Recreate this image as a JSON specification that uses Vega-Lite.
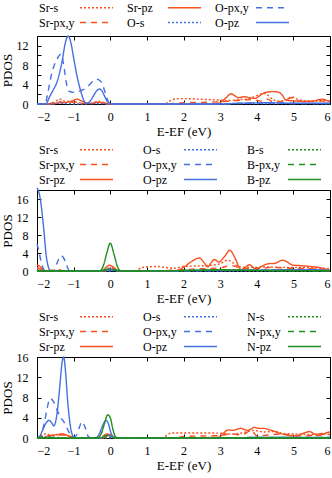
{
"$schema": "https://vega.github.io/schema/vega-lite/v6.json",
"padding": {"left": 0, "top": 0, "right": 3, "bottom": 0},
"config": {
  "font": "Liberation Serif",
  "view": {"stroke": "black", "strokeWidth": 1},
  "axis": {"grid": false, "domain": false, "labelFont": "Liberation Serif", "labelFontSize": 12, "labelColor": "black", "titleFont": "Liberation Serif", "titleFontSize": 13, "titleFontWeight": "normal", "titleColor": "black", "tickColor": "black", "tickSize": -4},
  "legend": {"orient": "none", "legendX": 53, "direction": "horizontal", "columns": 3, "title": null, "labelFont": "Liberation Serif", "labelFontSize": 12, "labelColor": "black", "symbolType": "M-3,0H3", "symbolSize": 121, "symbolStrokeWidth": 1.5, "labelAlign": "left", "labelOffset": -64, "rowPadding": 2, "padding": 0},
  "line": {"strokeWidth": 1.4, "interpolate": "monotone", "clip": true}
},
"resolve": {"scale": {"color": "independent", "strokeDash": "independent"}},
"spacing": 3,
"datasets": {
"a": [
{"x":-2,"y":0,"s":"Sr-s"},{"x":-1.6,"y":0,"s":"Sr-s"},{"x":-1.5,"y":0.4,"s":"Sr-s"},{"x":-1.42,"y":0.9,"s":"Sr-s"},{"x":-1.35,"y":1.0,"s":"Sr-s"},{"x":-1.28,"y":0.7,"s":"Sr-s"},{"x":-1.2,"y":0.5,"s":"Sr-s"},{"x":-1.1,"y":0.6,"s":"Sr-s"},{"x":-1.0,"y":0.5,"s":"Sr-s"},{"x":-0.9,"y":0.3,"s":"Sr-s"},{"x":-0.75,"y":0.2,"s":"Sr-s"},{"x":-0.6,"y":0.1,"s":"Sr-s"},{"x":-0.45,"y":0.3,"s":"Sr-s"},{"x":-0.32,"y":0.6,"s":"Sr-s"},{"x":-0.2,"y":0.3,"s":"Sr-s"},{"x":-0.05,"y":0,"s":"Sr-s"},{"x":1.5,"y":0,"s":"Sr-s"},{"x":1.58,"y":0.4,"s":"Sr-s"},{"x":1.7,"y":0.9,"s":"Sr-s"},{"x":1.85,"y":1.1,"s":"Sr-s"},{"x":2.1,"y":1.1,"s":"Sr-s"},{"x":2.4,"y":1.0,"s":"Sr-s"},{"x":2.7,"y":0.9,"s":"Sr-s"},{"x":3.0,"y":0.8,"s":"Sr-s"},{"x":3.2,"y":0.7,"s":"Sr-s"},{"x":3.45,"y":0.9,"s":"Sr-s"},{"x":3.7,"y":1.0,"s":"Sr-s"},{"x":3.9,"y":1.4,"s":"Sr-s"},{"x":4.05,"y":1.9,"s":"Sr-s"},{"x":4.2,"y":2.2,"s":"Sr-s"},{"x":4.3,"y":1.8,"s":"Sr-s"},{"x":4.45,"y":0.9,"s":"Sr-s"},{"x":4.6,"y":0.6,"s":"Sr-s"},{"x":4.8,"y":0.8,"s":"Sr-s"},{"x":4.95,"y":1.5,"s":"Sr-s"},{"x":5.1,"y":1.0,"s":"Sr-s"},{"x":5.3,"y":0.7,"s":"Sr-s"},{"x":5.6,"y":0.6,"s":"Sr-s"},{"x":5.85,"y":0.8,"s":"Sr-s"},{"x":6,"y":0.6,"s":"Sr-s"},
{"x":-2,"y":0,"s":"Sr-px,y"},{"x":-1.7,"y":0,"s":"Sr-px,y"},{"x":-1.55,"y":0.3,"s":"Sr-px,y"},{"x":-1.4,"y":0.5,"s":"Sr-px,y"},{"x":-1.25,"y":0.3,"s":"Sr-px,y"},{"x":-1.1,"y":0.4,"s":"Sr-px,y"},{"x":-0.95,"y":0.3,"s":"Sr-px,y"},{"x":-0.8,"y":0.1,"s":"Sr-px,y"},{"x":-0.5,"y":0.1,"s":"Sr-px,y"},{"x":-0.35,"y":0.4,"s":"Sr-px,y"},{"x":-0.2,"y":0.3,"s":"Sr-px,y"},{"x":-0.05,"y":0,"s":"Sr-px,y"},{"x":1.6,"y":0,"s":"Sr-px,y"},{"x":1.8,"y":0.2,"s":"Sr-px,y"},{"x":2.2,"y":0.3,"s":"Sr-px,y"},{"x":2.6,"y":0.35,"s":"Sr-px,y"},{"x":3.0,"y":0.45,"s":"Sr-px,y"},{"x":3.3,"y":0.6,"s":"Sr-px,y"},{"x":3.6,"y":0.8,"s":"Sr-px,y"},{"x":3.9,"y":0.9,"s":"Sr-px,y"},{"x":4.1,"y":0.6,"s":"Sr-px,y"},{"x":4.3,"y":1.0,"s":"Sr-px,y"},{"x":4.45,"y":0.4,"s":"Sr-px,y"},{"x":4.7,"y":0.5,"s":"Sr-px,y"},{"x":4.95,"y":1.3,"s":"Sr-px,y"},{"x":5.15,"y":0.6,"s":"Sr-px,y"},{"x":5.5,"y":0.5,"s":"Sr-px,y"},{"x":5.8,"y":0.6,"s":"Sr-px,y"},{"x":6,"y":0.4,"s":"Sr-px,y"},
{"x":-2,"y":0,"s":"Sr-pz"},{"x":-1.6,"y":0,"s":"Sr-pz"},{"x":-1.45,"y":0.2,"s":"Sr-pz"},{"x":-1.25,"y":0.3,"s":"Sr-pz"},{"x":-1.05,"y":0.6,"s":"Sr-pz"},{"x":-0.91,"y":1.0,"s":"Sr-pz"},{"x":-0.8,"y":0.7,"s":"Sr-pz"},{"x":-0.65,"y":0.2,"s":"Sr-pz"},{"x":-0.5,"y":0.1,"s":"Sr-pz"},{"x":-0.35,"y":0.3,"s":"Sr-pz"},{"x":-0.2,"y":0.25,"s":"Sr-pz"},{"x":-0.05,"y":0,"s":"Sr-pz"},{"x":2.8,"y":0,"s":"Sr-pz"},{"x":3.0,"y":0.3,"s":"Sr-pz"},{"x":3.15,"y":1.2,"s":"Sr-pz"},{"x":3.3,"y":2.1,"s":"Sr-pz"},{"x":3.4,"y":1.7,"s":"Sr-pz"},{"x":3.5,"y":1.3,"s":"Sr-pz"},{"x":3.66,"y":1.5,"s":"Sr-pz"},{"x":3.8,"y":1.3,"s":"Sr-pz"},{"x":3.95,"y":1.15,"s":"Sr-pz"},{"x":4.1,"y":1.8,"s":"Sr-pz"},{"x":4.25,"y":2.4,"s":"Sr-pz"},{"x":4.45,"y":2.56,"s":"Sr-pz"},{"x":4.6,"y":2.4,"s":"Sr-pz"},{"x":4.7,"y":1.8,"s":"Sr-pz"},{"x":4.78,"y":0.9,"s":"Sr-pz"},{"x":4.9,"y":0.7,"s":"Sr-pz"},{"x":5.1,"y":0.6,"s":"Sr-pz"},{"x":5.35,"y":0.5,"s":"Sr-pz"},{"x":5.55,"y":0.6,"s":"Sr-pz"},{"x":5.7,"y":0.9,"s":"Sr-pz"},{"x":5.8,"y":1.0,"s":"Sr-pz"},{"x":5.92,"y":0.7,"s":"Sr-pz"},{"x":6,"y":0.5,"s":"Sr-pz"},
{"x":-2,"y":0,"s":"O-s"},{"x":-1.6,"y":0,"s":"O-s"},{"x":-1.4,"y":0.2,"s":"O-s"},{"x":-1.2,"y":0.1,"s":"O-s"},{"x":-0.9,"y":0,"s":"O-s"},{"x":-0.4,"y":0.1,"s":"O-s"},{"x":0,"y":0,"s":"O-s"},{"x":3,"y":0,"s":"O-s"},{"x":3.5,"y":0.1,"s":"O-s"},{"x":4.5,"y":0.1,"s":"O-s"},{"x":6,"y":0.05,"s":"O-s"},
{"x":-2,"y":0,"s":"O-px,y"},{"x":-1.78,"y":0,"s":"O-px,y"},{"x":-1.7,"y":2.5,"s":"O-px,y"},{"x":-1.59,"y":6.5,"s":"O-px,y"},{"x":-1.45,"y":9.3,"s":"O-px,y"},{"x":-1.34,"y":10.3,"s":"O-px,y"},{"x":-1.27,"y":8,"s":"O-px,y"},{"x":-1.2,"y":4.4,"s":"O-px,y"},{"x":-1.14,"y":2.7,"s":"O-px,y"},{"x":-1.0,"y":2.4,"s":"O-px,y"},{"x":-0.82,"y":2.7,"s":"O-px,y"},{"x":-0.7,"y":3.1,"s":"O-px,y"},{"x":-0.59,"y":3.8,"s":"O-px,y"},{"x":-0.45,"y":4.8,"s":"O-px,y"},{"x":-0.36,"y":5.1,"s":"O-px,y"},{"x":-0.28,"y":4.8,"s":"O-px,y"},{"x":-0.22,"y":4.2,"s":"O-px,y"},{"x":-0.15,"y":2.6,"s":"O-px,y"},{"x":-0.09,"y":1.2,"s":"O-px,y"},{"x":-0.02,"y":0.1,"s":"O-px,y"},{"x":0.1,"y":0,"s":"O-px,y"},{"x":3,"y":0,"s":"O-px,y"},{"x":3.5,"y":0.1,"s":"O-px,y"},{"x":4.4,"y":0.2,"s":"O-px,y"},{"x":5,"y":0.1,"s":"O-px,y"},{"x":6,"y":0.1,"s":"O-px,y"},
{"x":-2,"y":0,"s":"O-pz"},{"x":-1.76,"y":0,"s":"O-pz"},{"x":-1.65,"y":1.6,"s":"O-pz"},{"x":-1.55,"y":3.0,"s":"O-pz"},{"x":-1.45,"y":4.6,"s":"O-pz"},{"x":-1.32,"y":8.6,"s":"O-pz"},{"x":-1.22,"y":12.8,"s":"O-pz"},{"x":-1.15,"y":14.0,"s":"O-pz"},{"x":-1.08,"y":12.8,"s":"O-pz"},{"x":-1.0,"y":9.5,"s":"O-pz"},{"x":-0.9,"y":5.5,"s":"O-pz"},{"x":-0.8,"y":2.5,"s":"O-pz"},{"x":-0.72,"y":0.7,"s":"O-pz"},{"x":-0.66,"y":0.1,"s":"O-pz"},{"x":-0.55,"y":0.6,"s":"O-pz"},{"x":-0.45,"y":1.8,"s":"O-pz"},{"x":-0.36,"y":2.8,"s":"O-pz"},{"x":-0.29,"y":3.1,"s":"O-pz"},{"x":-0.22,"y":2.6,"s":"O-pz"},{"x":-0.14,"y":1.4,"s":"O-pz"},{"x":-0.06,"y":0.3,"s":"O-pz"},{"x":0.05,"y":0,"s":"O-pz"},{"x":3,"y":0,"s":"O-pz"},{"x":3.5,"y":0.15,"s":"O-pz"},{"x":4.4,"y":0.25,"s":"O-pz"},{"x":5,"y":0.15,"s":"O-pz"},{"x":6,"y":0.15,"s":"O-pz"}
],
"b": [
{"x":-2,"y":0.8,"s":"Sr-s"},{"x":-1.9,"y":0.5,"s":"Sr-s"},{"x":-1.8,"y":0.1,"s":"Sr-s"},{"x":-1.7,"y":0,"s":"Sr-s"},{"x":-0.2,"y":0,"s":"Sr-s"},{"x":-0.05,"y":0.6,"s":"Sr-s"},{"x":0.05,"y":0.6,"s":"Sr-s"},{"x":0.2,"y":0,"s":"Sr-s"},{"x":0.7,"y":0,"s":"Sr-s"},{"x":0.84,"y":0.7,"s":"Sr-s"},{"x":1.0,"y":0.9,"s":"Sr-s"},{"x":1.3,"y":1.0,"s":"Sr-s"},{"x":1.5,"y":0.8,"s":"Sr-s"},{"x":1.75,"y":0.6,"s":"Sr-s"},{"x":2.0,"y":1.0,"s":"Sr-s"},{"x":2.3,"y":1.1,"s":"Sr-s"},{"x":2.6,"y":1.2,"s":"Sr-s"},{"x":2.9,"y":1.4,"s":"Sr-s"},{"x":3.05,"y":1.8,"s":"Sr-s"},{"x":3.2,"y":2.4,"s":"Sr-s"},{"x":3.35,"y":1.8,"s":"Sr-s"},{"x":3.5,"y":1.0,"s":"Sr-s"},{"x":3.7,"y":0.8,"s":"Sr-s"},{"x":4.0,"y":0.8,"s":"Sr-s"},{"x":4.3,"y":0.9,"s":"Sr-s"},{"x":4.6,"y":0.8,"s":"Sr-s"},{"x":5.0,"y":0.8,"s":"Sr-s"},{"x":5.5,"y":0.7,"s":"Sr-s"},{"x":6,"y":0.5,"s":"Sr-s"},
{"x":-2,"y":0.6,"s":"Sr-px,y"},{"x":-1.85,"y":0.3,"s":"Sr-px,y"},{"x":-1.75,"y":0,"s":"Sr-px,y"},{"x":-1.6,"y":0.2,"s":"Sr-px,y"},{"x":-1.4,"y":0.3,"s":"Sr-px,y"},{"x":-1.25,"y":0,"s":"Sr-px,y"},{"x":-0.15,"y":0,"s":"Sr-px,y"},{"x":0,"y":0.8,"s":"Sr-px,y"},{"x":0.15,"y":0.3,"s":"Sr-px,y"},{"x":0.3,"y":0,"s":"Sr-px,y"},{"x":1.0,"y":0,"s":"Sr-px,y"},{"x":1.5,"y":0.1,"s":"Sr-px,y"},{"x":2.0,"y":0.3,"s":"Sr-px,y"},{"x":2.5,"y":0.5,"s":"Sr-px,y"},{"x":3.0,"y":0.7,"s":"Sr-px,y"},{"x":3.3,"y":1.2,"s":"Sr-px,y"},{"x":3.6,"y":0.6,"s":"Sr-px,y"},{"x":4.0,"y":0.5,"s":"Sr-px,y"},{"x":4.4,"y":0.8,"s":"Sr-px,y"},{"x":5.0,"y":0.6,"s":"Sr-px,y"},{"x":5.5,"y":0.5,"s":"Sr-px,y"},{"x":6,"y":0.3,"s":"Sr-px,y"},
{"x":-2,"y":1.3,"s":"Sr-pz"},{"x":-1.95,"y":1.2,"s":"Sr-pz"},{"x":-1.88,"y":0.7,"s":"Sr-pz"},{"x":-1.8,"y":0.1,"s":"Sr-pz"},{"x":-1.7,"y":0,"s":"Sr-pz"},{"x":-0.25,"y":0,"s":"Sr-pz"},{"x":-0.1,"y":0.9,"s":"Sr-pz"},{"x":-0.02,"y":1.3,"s":"Sr-pz"},{"x":0.08,"y":0.9,"s":"Sr-pz"},{"x":0.2,"y":0.1,"s":"Sr-pz"},{"x":0.3,"y":0,"s":"Sr-pz"},{"x":1.7,"y":0,"s":"Sr-pz"},{"x":1.85,"y":0.2,"s":"Sr-pz"},{"x":2.0,"y":0.8,"s":"Sr-pz"},{"x":2.2,"y":2.0,"s":"Sr-pz"},{"x":2.43,"y":2.9,"s":"Sr-pz"},{"x":2.55,"y":2.0,"s":"Sr-pz"},{"x":2.66,"y":0.9,"s":"Sr-pz"},{"x":2.75,"y":1.8,"s":"Sr-pz"},{"x":2.84,"y":2.55,"s":"Sr-pz"},{"x":2.97,"y":2.0,"s":"Sr-pz"},{"x":3.1,"y":3.0,"s":"Sr-pz"},{"x":3.27,"y":4.6,"s":"Sr-pz"},{"x":3.4,"y":3.0,"s":"Sr-pz"},{"x":3.57,"y":0.3,"s":"Sr-pz"},{"x":3.7,"y":0.9,"s":"Sr-pz"},{"x":3.8,"y":1.4,"s":"Sr-pz"},{"x":3.9,"y":0.8,"s":"Sr-pz"},{"x":3.96,"y":0.4,"s":"Sr-pz"},{"x":4.1,"y":0.9,"s":"Sr-pz"},{"x":4.3,"y":1.6,"s":"Sr-pz"},{"x":4.49,"y":1.7,"s":"Sr-pz"},{"x":4.71,"y":2.4,"s":"Sr-pz"},{"x":4.85,"y":1.9,"s":"Sr-pz"},{"x":4.98,"y":1.3,"s":"Sr-pz"},{"x":5.2,"y":1.2,"s":"Sr-pz"},{"x":5.4,"y":1.05,"s":"Sr-pz"},{"x":5.6,"y":0.9,"s":"Sr-pz"},{"x":5.76,"y":0.7,"s":"Sr-pz"},{"x":5.9,"y":0.35,"s":"Sr-pz"},{"x":6,"y":0.1,"s":"Sr-pz"},
{"x":-2,"y":0.3,"s":"O-s"},{"x":-1.9,"y":0,"s":"O-s"},{"x":0,"y":0,"s":"O-s"},{"x":0.05,"y":0.2,"s":"O-s"},{"x":0.15,"y":0,"s":"O-s"},{"x":6,"y":0,"s":"O-s"},
{"x":-2,"y":6,"s":"O-px,y"},{"x":-1.95,"y":4.5,"s":"O-px,y"},{"x":-1.9,"y":2.5,"s":"O-px,y"},{"x":-1.85,"y":1,"s":"O-px,y"},{"x":-1.78,"y":0,"s":"O-px,y"},{"x":-1.55,"y":0,"s":"O-px,y"},{"x":-1.45,"y":1.8,"s":"O-px,y"},{"x":-1.35,"y":3.4,"s":"O-px,y"},{"x":-1.28,"y":3.0,"s":"O-px,y"},{"x":-1.2,"y":1.5,"s":"O-px,y"},{"x":-1.12,"y":0.1,"s":"O-px,y"},{"x":-1.0,"y":0,"s":"O-px,y"},{"x":-0.1,"y":0,"s":"O-px,y"},{"x":0,"y":0.3,"s":"O-px,y"},{"x":0.1,"y":0,"s":"O-px,y"},{"x":2,"y":0,"s":"O-px,y"},{"x":3,"y":0.1,"s":"O-px,y"},{"x":4,"y":0.2,"s":"O-px,y"},{"x":5,"y":0.2,"s":"O-px,y"},{"x":6,"y":0.1,"s":"O-px,y"},
{"x":-2,"y":18.5,"s":"O-pz"},{"x":-1.95,"y":17.5,"s":"O-pz"},{"x":-1.9,"y":15.5,"s":"O-pz"},{"x":-1.85,"y":12,"s":"O-pz"},{"x":-1.8,"y":8,"s":"O-pz"},{"x":-1.75,"y":3.5,"s":"O-pz"},{"x":-1.7,"y":1.2,"s":"O-pz"},{"x":-1.64,"y":0.1,"s":"O-pz"},{"x":-1.5,"y":0,"s":"O-pz"},{"x":-0.3,"y":0,"s":"O-pz"},{"x":-0.15,"y":0.2,"s":"O-pz"},{"x":0,"y":0.4,"s":"O-pz"},{"x":0.15,"y":0.1,"s":"O-pz"},{"x":0.3,"y":0,"s":"O-pz"},{"x":2,"y":0.1,"s":"O-pz"},{"x":3,"y":0.2,"s":"O-pz"},{"x":4,"y":0.2,"s":"O-pz"},{"x":5,"y":0.3,"s":"O-pz"},{"x":5.5,"y":0.3,"s":"O-pz"},{"x":6,"y":0.1,"s":"O-pz"},
{"x":-2,"y":0,"s":"B-s"},{"x":-0.2,"y":0,"s":"B-s"},{"x":0,"y":0.3,"s":"B-s"},{"x":0.2,"y":0,"s":"B-s"},{"x":2,"y":0.1,"s":"B-s"},{"x":3,"y":0.2,"s":"B-s"},{"x":4,"y":0.1,"s":"B-s"},{"x":6,"y":0.05,"s":"B-s"},
{"x":-2,"y":0,"s":"B-px,y"},{"x":-0.25,"y":0,"s":"B-px,y"},{"x":-0.1,"y":0.4,"s":"B-px,y"},{"x":0,"y":0.6,"s":"B-px,y"},{"x":0.1,"y":0.4,"s":"B-px,y"},{"x":0.25,"y":0,"s":"B-px,y"},{"x":2,"y":0.1,"s":"B-px,y"},{"x":3,"y":0.2,"s":"B-px,y"},{"x":4,"y":0.1,"s":"B-px,y"},{"x":6,"y":0,"s":"B-px,y"},
{"x":-2,"y":0,"s":"B-pz"},{"x":-0.3,"y":0,"s":"B-pz"},{"x":-0.2,"y":0.9,"s":"B-pz"},{"x":-0.1,"y":3.8,"s":"B-pz"},{"x":0,"y":6.2,"s":"B-pz"},{"x":0.1,"y":3.8,"s":"B-pz"},{"x":0.2,"y":0.9,"s":"B-pz"},{"x":0.3,"y":0,"s":"B-pz"},{"x":2,"y":0.1,"s":"B-pz"},{"x":2.5,"y":0.2,"s":"B-pz"},{"x":3,"y":0.3,"s":"B-pz"},{"x":3.5,"y":0.2,"s":"B-pz"},{"x":4,"y":0.15,"s":"B-pz"},{"x":5,"y":0.1,"s":"B-pz"},{"x":6,"y":0.05,"s":"B-pz"}
],
"c": [
{"x":-2,"y":0,"s":"Sr-s"},{"x":-1.9,"y":0.3,"s":"Sr-s"},{"x":-1.8,"y":0.8,"s":"Sr-s"},{"x":-1.6,"y":0.6,"s":"Sr-s"},{"x":-1.45,"y":0.7,"s":"Sr-s"},{"x":-1.35,"y":0.8,"s":"Sr-s"},{"x":-1.2,"y":0.5,"s":"Sr-s"},{"x":-1.0,"y":0.2,"s":"Sr-s"},{"x":-0.9,"y":0,"s":"Sr-s"},{"x":-0.3,"y":0,"s":"Sr-s"},{"x":-0.15,"y":0.5,"s":"Sr-s"},{"x":-0.05,"y":0.6,"s":"Sr-s"},{"x":0.1,"y":0,"s":"Sr-s"},{"x":1.45,"y":0,"s":"Sr-s"},{"x":1.55,"y":0.6,"s":"Sr-s"},{"x":1.65,"y":0.95,"s":"Sr-s"},{"x":1.8,"y":1.0,"s":"Sr-s"},{"x":2.2,"y":1.0,"s":"Sr-s"},{"x":2.6,"y":1.0,"s":"Sr-s"},{"x":3.0,"y":0.95,"s":"Sr-s"},{"x":3.3,"y":0.8,"s":"Sr-s"},{"x":3.6,"y":1.0,"s":"Sr-s"},{"x":3.9,"y":1.5,"s":"Sr-s"},{"x":4.2,"y":1.2,"s":"Sr-s"},{"x":4.5,"y":1.3,"s":"Sr-s"},{"x":4.7,"y":0.9,"s":"Sr-s"},{"x":5.0,"y":0.8,"s":"Sr-s"},{"x":5.4,"y":0.7,"s":"Sr-s"},{"x":5.7,"y":0.8,"s":"Sr-s"},{"x":6,"y":0.7,"s":"Sr-s"},
{"x":-2,"y":0,"s":"Sr-px,y"},{"x":-1.8,"y":0.3,"s":"Sr-px,y"},{"x":-1.5,"y":0.5,"s":"Sr-px,y"},{"x":-1.3,"y":0.6,"s":"Sr-px,y"},{"x":-1.1,"y":0.3,"s":"Sr-px,y"},{"x":-0.95,"y":0,"s":"Sr-px,y"},{"x":-0.2,"y":0,"s":"Sr-px,y"},{"x":-0.1,"y":0.4,"s":"Sr-px,y"},{"x":0.05,"y":0.2,"s":"Sr-px,y"},{"x":0.15,"y":0,"s":"Sr-px,y"},{"x":1.8,"y":0,"s":"Sr-px,y"},{"x":2.0,"y":0.3,"s":"Sr-px,y"},{"x":2.5,"y":0.4,"s":"Sr-px,y"},{"x":3.0,"y":0.5,"s":"Sr-px,y"},{"x":3.3,"y":0.8,"s":"Sr-px,y"},{"x":3.6,"y":0.6,"s":"Sr-px,y"},{"x":3.85,"y":1.5,"s":"Sr-px,y"},{"x":4.0,"y":0.4,"s":"Sr-px,y"},{"x":4.3,"y":0.6,"s":"Sr-px,y"},{"x":4.7,"y":0.8,"s":"Sr-px,y"},{"x":5.0,"y":0.4,"s":"Sr-px,y"},{"x":5.5,"y":0.5,"s":"Sr-px,y"},{"x":5.8,"y":0.9,"s":"Sr-px,y"},{"x":6,"y":0.6,"s":"Sr-px,y"},
{"x":-2,"y":0,"s":"Sr-pz"},{"x":-1.9,"y":0,"s":"Sr-pz"},{"x":-1.7,"y":0.4,"s":"Sr-pz"},{"x":-1.4,"y":0.7,"s":"Sr-pz"},{"x":-1.3,"y":0.8,"s":"Sr-pz"},{"x":-1.2,"y":0.6,"s":"Sr-pz"},{"x":-1.05,"y":0.2,"s":"Sr-pz"},{"x":-0.9,"y":0,"s":"Sr-pz"},{"x":-0.25,"y":0,"s":"Sr-pz"},{"x":-0.15,"y":0.6,"s":"Sr-pz"},{"x":-0.08,"y":0.8,"s":"Sr-pz"},{"x":0.05,"y":0.4,"s":"Sr-pz"},{"x":0.15,"y":0,"s":"Sr-pz"},{"x":2.9,"y":0.1,"s":"Sr-pz"},{"x":3.0,"y":0.3,"s":"Sr-pz"},{"x":3.1,"y":1.0,"s":"Sr-pz"},{"x":3.21,"y":1.6,"s":"Sr-pz"},{"x":3.35,"y":1.5,"s":"Sr-pz"},{"x":3.45,"y":1.7,"s":"Sr-pz"},{"x":3.57,"y":1.93,"s":"Sr-pz"},{"x":3.65,"y":1.7,"s":"Sr-pz"},{"x":3.75,"y":1.5,"s":"Sr-pz"},{"x":3.85,"y":1.8,"s":"Sr-pz"},{"x":3.93,"y":2.1,"s":"Sr-pz"},{"x":4.05,"y":1.9,"s":"Sr-pz"},{"x":4.2,"y":1.9,"s":"Sr-pz"},{"x":4.35,"y":1.6,"s":"Sr-pz"},{"x":4.48,"y":1.3,"s":"Sr-pz"},{"x":4.6,"y":1.0,"s":"Sr-pz"},{"x":4.75,"y":0.7,"s":"Sr-pz"},{"x":4.9,"y":0.5,"s":"Sr-pz"},{"x":5.0,"y":0.4,"s":"Sr-pz"},{"x":5.15,"y":0.6,"s":"Sr-pz"},{"x":5.3,"y":1.0,"s":"Sr-pz"},{"x":5.43,"y":1.27,"s":"Sr-pz"},{"x":5.55,"y":0.9,"s":"Sr-pz"},{"x":5.65,"y":0.5,"s":"Sr-pz"},{"x":5.8,"y":0.7,"s":"Sr-pz"},{"x":5.93,"y":1.1,"s":"Sr-pz"},{"x":6,"y":1.2,"s":"Sr-pz"},
{"x":-2,"y":0,"s":"O-s"},{"x":-1.7,"y":0.2,"s":"O-s"},{"x":-1.4,"y":0.1,"s":"O-s"},{"x":-1.0,"y":0,"s":"O-s"},{"x":6,"y":0,"s":"O-s"},
{"x":-2,"y":0,"s":"O-px,y"},{"x":-1.9,"y":0.5,"s":"O-px,y"},{"x":-1.8,"y":3,"s":"O-px,y"},{"x":-1.72,"y":6,"s":"O-px,y"},{"x":-1.64,"y":7.8,"s":"O-px,y"},{"x":-1.55,"y":7.2,"s":"O-px,y"},{"x":-1.45,"y":5.5,"s":"O-px,y"},{"x":-1.35,"y":4.0,"s":"O-px,y"},{"x":-1.25,"y":3.0,"s":"O-px,y"},{"x":-1.15,"y":1.5,"s":"O-px,y"},{"x":-1.05,"y":0.3,"s":"O-px,y"},{"x":-0.95,"y":0.3,"s":"O-px,y"},{"x":-0.85,"y":2.0,"s":"O-px,y"},{"x":-0.77,"y":3.2,"s":"O-px,y"},{"x":-0.68,"y":2.0,"s":"O-px,y"},{"x":-0.6,"y":0.3,"s":"O-px,y"},{"x":-0.5,"y":0,"s":"O-px,y"},{"x":-0.25,"y":0,"s":"O-px,y"},{"x":-0.15,"y":0.3,"s":"O-px,y"},{"x":-0.05,"y":0.5,"s":"O-px,y"},{"x":0.05,"y":0.2,"s":"O-px,y"},{"x":0.15,"y":0,"s":"O-px,y"},{"x":3,"y":0,"s":"O-px,y"},{"x":4,"y":0.1,"s":"O-px,y"},{"x":6,"y":0.1,"s":"O-px,y"},
{"x":-2,"y":0,"s":"O-pz"},{"x":-1.95,"y":0.1,"s":"O-pz"},{"x":-1.85,"y":1.5,"s":"O-pz"},{"x":-1.75,"y":3.0,"s":"O-pz"},{"x":-1.68,"y":3.5,"s":"O-pz"},{"x":-1.6,"y":3.0,"s":"O-pz"},{"x":-1.54,"y":2.4,"s":"O-pz"},{"x":-1.45,"y":5,"s":"O-pz"},{"x":-1.38,"y":10,"s":"O-pz"},{"x":-1.31,"y":15.2,"s":"O-pz"},{"x":-1.27,"y":16,"s":"O-pz"},{"x":-1.22,"y":13,"s":"O-pz"},{"x":-1.16,"y":7,"s":"O-pz"},{"x":-1.09,"y":2.4,"s":"O-pz"},{"x":-1.0,"y":0.2,"s":"O-pz"},{"x":-0.9,"y":0,"s":"O-pz"},{"x":-0.4,"y":0,"s":"O-pz"},{"x":-0.3,"y":0.8,"s":"O-pz"},{"x":-0.2,"y":2.6,"s":"O-pz"},{"x":-0.12,"y":3.5,"s":"O-pz"},{"x":-0.05,"y":2.8,"s":"O-pz"},{"x":0.02,"y":1.0,"s":"O-pz"},{"x":0.1,"y":0.1,"s":"O-pz"},{"x":0.2,"y":0,"s":"O-pz"},{"x":3,"y":0,"s":"O-pz"},{"x":4,"y":0.1,"s":"O-pz"},{"x":6,"y":0.1,"s":"O-pz"},
{"x":-2,"y":0,"s":"N-s"},{"x":-0.2,"y":0,"s":"N-s"},{"x":-0.07,"y":0.2,"s":"N-s"},{"x":0.1,"y":0,"s":"N-s"},{"x":6,"y":0,"s":"N-s"},
{"x":-2,"y":0,"s":"N-px,y"},{"x":-1.8,"y":0.2,"s":"N-px,y"},{"x":-1.6,"y":0.1,"s":"N-px,y"},{"x":-1.4,"y":0,"s":"N-px,y"},{"x":-0.3,"y":0,"s":"N-px,y"},{"x":-0.15,"y":0.4,"s":"N-px,y"},{"x":-0.05,"y":0.6,"s":"N-px,y"},{"x":0.05,"y":0.3,"s":"N-px,y"},{"x":0.15,"y":0,"s":"N-px,y"},{"x":3,"y":0,"s":"N-px,y"},{"x":4,"y":0.1,"s":"N-px,y"},{"x":6,"y":0.05,"s":"N-px,y"},
{"x":-2,"y":0,"s":"N-pz"},{"x":-0.35,"y":0,"s":"N-pz"},{"x":-0.25,"y":0.8,"s":"N-pz"},{"x":-0.15,"y":3.0,"s":"N-pz"},{"x":-0.07,"y":4.6,"s":"N-pz"},{"x":0,"y":4.0,"s":"N-pz"},{"x":0.08,"y":1.5,"s":"N-pz"},{"x":0.15,"y":0.2,"s":"N-pz"},{"x":0.25,"y":0,"s":"N-pz"},{"x":6,"y":0,"s":"N-pz"}
]
},
"vconcat": [
{
  "width": 293, "height": 68,
  "resolve": {"axis": {"x": "independent", "y": "independent"}},
  "layer": [
    {"data": {"name": "a"}, "mark": {"type": "line"},
     "encoding": {
      "x": {"field": "x", "type": "quantitative", "scale": {"domain": [-2, 6], "nice": false}, "axis": {"values": [-2,-1,0,1,2,3,4,5,6], "title": "E-EF (eV)", "labelPadding": 11, "titlePadding": 3}},
      "y": {"field": "y", "type": "quantitative", "scale": {"domain": [0, 14], "nice": false}, "axis": {"values": [0,2,4,6,8,10,12,14], "labelExpr": "datum.value % 4 == 0 ? datum.label : ''", "title": "PDOS", "labelPadding": 13, "titlePadding": 2}},
      "color": {"field": "s", "type": "nominal", "scale": {"domain": ["Sr-s","Sr-pz","O-px,y","Sr-px,y","O-s","O-pz"], "range": ["#f8501e","#f8501e","#4470e0","#f8501e","#4470e0","#4470e0"]}, "legend": {"columnPadding": 11, "legendY": -35}},
      "strokeDash": {"field": "s", "type": "nominal", "scale": {"domain": ["Sr-s","Sr-pz","O-px,y","Sr-px,y","O-s","O-pz"], "range": [[2,2],[1,0],[6,5],[6,5],[2,2],[1,0]]}, "legend": {"columnPadding": 11, "legendY": -35}}
     }},
    {"mark": {"type": "rule", "color": "#999999", "strokeDash": [1,2], "strokeWidth": 0.8},
     "encoding": {"x": {"datum": 0, "axis": {"orient": "top", "labels": false, "title": null, "values": [-2,-1,0,1,2,3,4,5,6]}}}},
    {"mark": {"type": "text", "align": "left", "baseline": "middle", "fontSize": 14, "font": "Liberation Serif", "color": "black"},
     "encoding": {"x": {"datum": 0.65, "axis": null}, "y": {"datum": 10, "axis": {"orient": "right", "labels": false, "title": null, "values": [0,2,4,6,8,10,12,14]}}, "text": {"value": "(a) SrO"}}}
  ]
},
{
  "width": 293, "height": 81,
  "resolve": {"axis": {"x": "independent", "y": "independent"}},
  "layer": [
    {"data": {"name": "b"}, "mark": {"type": "line"},
     "encoding": {
      "x": {"field": "x", "type": "quantitative", "scale": {"domain": [-2, 6], "nice": false}, "axis": {"values": [-2,-1,0,1,2,3,4,5,6], "title": "E-EF (eV)", "labelPadding": 11, "titlePadding": 3}},
      "y": {"field": "y", "type": "quantitative", "scale": {"domain": [0, 18], "nice": false}, "axis": {"values": [0,4,8,12,16], "title": "PDOS", "labelPadding": 13, "titlePadding": 2}},
      "color": {"field": "s", "type": "nominal", "scale": {"domain": ["Sr-s","O-s","B-s","Sr-px,y","O-px,y","B-px,y","Sr-pz","O-pz","B-pz"], "range": ["#f8501e","#4470e0","#1f8f1f","#f8501e","#4470e0","#1f8f1f","#f8501e","#4470e0","#1f8f1f"]}, "legend": {"columnPadding": 27, "legendY": -47}},
      "strokeDash": {"field": "s", "type": "nominal", "scale": {"domain": ["Sr-s","O-s","B-s","Sr-px,y","O-px,y","B-px,y","Sr-pz","O-pz","B-pz"], "range": [[2,2],[2,2],[2,2],[6,5],[6,5],[6,5],[1,0],[1,0],[1,0]]}, "legend": {"columnPadding": 27, "legendY": -47}}
     }},
    {"mark": {"type": "rule", "color": "#999999", "strokeDash": [1,2], "strokeWidth": 0.8},
     "encoding": {"x": {"datum": 0, "axis": {"orient": "top", "labels": false, "title": null, "values": [-2,-1,0,1,2,3,4,5,6]}}}},
    {"mark": {"type": "text", "align": "left", "baseline": "middle", "fontSize": 14, "font": "Liberation Serif", "color": "black"},
     "encoding": {"x": {"datum": 0.76, "axis": null}, "y": {"datum": 13.7, "axis": {"orient": "right", "labels": false, "title": null, "values": [0,4,8,12,16]}}, "text": {"value": "(b) B-SrO"}}}
  ]
},
{
  "width": 293, "height": 81,
  "resolve": {"axis": {"x": "independent", "y": "independent"}},
  "layer": [
    {"data": {"name": "c"}, "mark": {"type": "line"},
     "encoding": {
      "x": {"field": "x", "type": "quantitative", "scale": {"domain": [-2, 6], "nice": false}, "axis": {"values": [-2,-1,0,1,2,3,4,5,6], "title": "E-EF (eV)", "labelPadding": 11, "titlePadding": 3}},
      "y": {"field": "y", "type": "quantitative", "scale": {"domain": [0, 16], "nice": false}, "axis": {"values": [0,4,8,12,16], "title": "PDOS", "labelPadding": 13, "titlePadding": 2}},
      "color": {"field": "s", "type": "nominal", "scale": {"domain": ["Sr-s","O-s","N-s","Sr-px,y","O-px,y","N-px,y","Sr-pz","O-pz","N-pz"], "range": ["#f8501e","#4470e0","#1f8f1f","#f8501e","#4470e0","#1f8f1f","#f8501e","#4470e0","#1f8f1f"]}, "legend": {"columnPadding": 27, "legendY": -47}},
      "strokeDash": {"field": "s", "type": "nominal", "scale": {"domain": ["Sr-s","O-s","N-s","Sr-px,y","O-px,y","N-px,y","Sr-pz","O-pz","N-pz"], "range": [[2,2],[2,2],[2,2],[6,5],[6,5],[6,5],[1,0],[1,0],[1,0]]}, "legend": {"columnPadding": 27, "legendY": -47}}
     }},
    {"mark": {"type": "rule", "color": "#999999", "strokeDash": [1,2], "strokeWidth": 0.8},
     "encoding": {"x": {"datum": 0, "axis": {"orient": "top", "labels": false, "title": null, "values": [-2,-1,0,1,2,3,4,5,6]}}}},
    {"mark": {"type": "text", "align": "left", "baseline": "middle", "fontSize": 14, "font": "Liberation Serif", "color": "black"},
     "encoding": {"x": {"datum": 0.84, "axis": null}, "y": {"datum": 11.5, "axis": {"orient": "right", "labels": false, "title": null, "values": [0,4,8,12,16]}}, "text": {"value": "(c) N-SrO"}}}
  ]
}
]
}
